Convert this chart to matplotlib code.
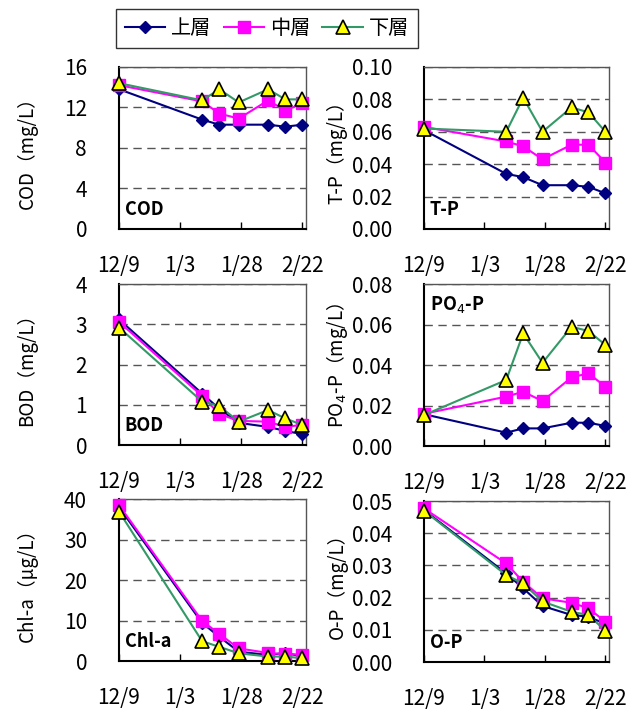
import datetime as dt

import matplotlib

matplotlib.use("Agg")
import matplotlib.pyplot as plt  # noqa: E402

plt.rcParams["font.family"] = ["Noto Sans CJK JP", "DejaVu Sans"]
plt.rcParams["mathtext.fontset"] = "dejavusans"

# sampling dates (winter survey)
DATES = ["2008-12-09", "2009-01-12", "2009-01-19", "2009-01-27",
         "2009-02-08", "2009-02-15", "2009-02-22"]
TICK_DATES = ["2008-12-09", "2009-01-03", "2009-01-28", "2009-02-22"]
TICK_LABELS = ["12/9", "1/3", "1/28", "2/22"]
LAYERS = ["上層", "中層", "下層"]

COD_UP = [13.8, 10.8, 10.3, 10.3, 10.3, 10.1, 10.3]
COD_MID = [14.2, 12.6, 11.4, 10.9, 12.7, 11.7, 12.4]
COD_LOW = [14.4, 12.7, 13.8, 12.5, 13.8, 12.8, 12.8]

TP_UP = [0.061, 0.034, 0.032, 0.027, 0.027, 0.026, 0.022]
TP_MID = [0.063, 0.054, 0.051, 0.043, 0.052, 0.052, 0.041]
TP_LOW = [0.062, 0.060, 0.081, 0.060, 0.075, 0.072, 0.060]

BOD_UP = [3.12, 1.28, 0.90, 0.55, 0.45, 0.35, 0.27]
BOD_MID = [3.06, 1.22, 0.77, 0.60, 0.58, 0.45, 0.50]
BOD_LOW = [2.92, 1.08, 0.97, 0.58, 0.87, 0.66, 0.50]

PO4_UP = [0.0157, 0.0066, 0.0087, 0.0087, 0.0115, 0.0115, 0.0099]
PO4_MID = [0.0159, 0.0244, 0.0268, 0.0222, 0.0339, 0.0359, 0.0293]
PO4_LOW = [0.0153, 0.0326, 0.0556, 0.0411, 0.0589, 0.0568, 0.0499]

CHLA_UP = [38.0, 9.4, 6.0, 2.3, 1.5, 2.0, 1.1]
CHLA_MID = [38.5, 9.9, 6.7, 3.1, 2.0, 1.7, 1.6]
CHLA_LOW = [36.9, 4.9, 3.5, 1.9, 1.1, 1.1, 0.7]

OP_UP = [0.0472, 0.0275, 0.0229, 0.0174, 0.0146, 0.0141, 0.0118]
OP_MID = [0.0477, 0.0306, 0.0249, 0.0198, 0.0184, 0.0167, 0.0125]
OP_LOW = [0.0470, 0.0270, 0.0244, 0.0188, 0.0156, 0.0146, 0.0097]

NAVY = "#000080"
MAGENTA = "#ff00ff"
GREEN = "#339966"
STYLES = [
    dict(color=NAVY, marker="D", ms=6.5, mfc=NAVY, mec=NAVY),
    dict(color=MAGENTA, marker="s", ms=9, mfc=MAGENTA, mec=MAGENTA),
    dict(color=GREEN, marker="^", ms=10, mfc="#ffff00", mec="black", mew=1.2),
]

to_date = lambda s: dt.datetime.strptime(s, "%Y-%m-%d")
x = [to_date(d) for d in DATES]
xticks = [to_date(d) for d in TICK_DATES]
x0 = x[0]
x1 = x0 + dt.timedelta(days=76.5)

# (position, series, ylim, yticks, fmt, ylabel, tag, tag position)
panels = [
    ([0.1848, 0.678, 0.2904, 0.2278], (COD_UP, COD_MID, COD_LOW), 16, 4, "{:.0f}",
     "COD（mg/L）", "COD", "bottom"),
    ([0.6584, 0.678, 0.2873, 0.2278], (TP_UP, TP_MID, TP_LOW), 0.10, 0.02, "{:.2f}",
     "T-P（mg/L）", "T-P", "bottom"),
    ([0.1848, 0.3741, 0.2904, 0.2264], (BOD_UP, BOD_MID, BOD_LOW), 4, 1, "{:.0f}",
     "BOD（mg/L）", "BOD", "bottom"),
    ([0.6584, 0.3727, 0.2873, 0.2278], (PO4_UP, PO4_MID, PO4_LOW), 0.08, 0.02, "{:.2f}",
     "PO$_4$-P（mg/L）", "PO$_4$-P", "top"),
    ([0.1848, 0.0703, 0.2904, 0.2278], (CHLA_UP, CHLA_MID, CHLA_LOW), 40, 10, "{:.0f}",
     "Chl-a（μg/L）", "Chl-a", "bottom"),
    ([0.6584, 0.0689, 0.2873, 0.2264], (OP_UP, OP_MID, OP_LOW), 0.05, 0.01, "{:.2f}",
     "O-P（mg/L）", "O-P", "bottom"),
]

fig = plt.figure(figsize=(6.44, 7.11), dpi=100)

for pos, series, ymax, step, fmt, ylabel, tag, tagpos in panels:
    ax = fig.add_axes(pos)
    for vals, st in zip(series, STYLES):
        ax.plot(x, vals, lw=1.5, clip_on=False, zorder=3, **st)
    n = int(round(ymax / step))
    yt = [i * step for i in range(n + 1)]
    ax.set_ylim(0, ymax)
    ax.set_yticks(yt)
    ax.set_yticklabels([fmt.format(v) for v in yt])
    ax.set_xlim(x0, x1)
    ax.set_xticks(xticks)
    ax.set_xticklabels(TICK_LABELS)
    ax.tick_params(axis="x", direction="in", length=5, width=1, pad=19, labelsize=15)
    ax.tick_params(axis="y", length=0, pad=23, labelsize=15)
    for lab in ax.get_yticklabels():
        lab.set_bbox(dict(fc="white", ec="none", pad=0.5))
    ax.yaxis.grid(True, ls=(0, (6, 4)), color="#555555", lw=1)
    ax.set_axisbelow(True)
    for side in ("left", "bottom"):
        ax.spines[side].set_linewidth(1.5)
        ax.spines[side].set_color("black")
    for side in ("top", "right"):
        ax.spines[side].set_linewidth(1.0)
        ax.spines[side].set_color("#555555")

    if tagpos == "bottom":
        ax.text(0.03, 0.06, tag, transform=ax.transAxes, ha="left", va="bottom",
                fontsize=13, fontweight="bold")
    else:
        ax.text(0.03, 0.94, tag, transform=ax.transAxes, ha="left", va="top",
                fontsize=13, fontweight="bold")

    # y label sits behind the tick labels
    lx = 27 / 644 if pos[0] < 0.5 else 337 / 644
    fig.text(lx, pos[1] + pos[3] / 2, ylabel, rotation=90, ha="center", va="center",
             fontsize=13.5, zorder=-1)

handles = [plt.Line2D([], [], lw=1.5, **st) for st in STYLES]
leg = fig.legend(handles, LAYERS, loc="upper left", bbox_to_anchor=(116 / 644, 1 - 9 / 711),
                 ncol=3, fontsize=14.5, frameon=True, fancybox=False, edgecolor="black",
                 handlelength=2.0, handletextpad=0.3, columnspacing=0.6, borderpad=0.45,
                 borderaxespad=0)
leg.get_frame().set_linewidth(1.0)

fig.savefig("out.png", dpi=100)
